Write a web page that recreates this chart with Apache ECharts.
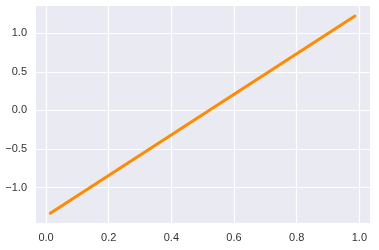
<!DOCTYPE html>
<html>
<head>
<meta charset="utf-8">
<script src="https://cdn.jsdelivr.net/npm/echarts@6/dist/echarts.min.js"></script>
<style>html,body{margin:0;padding:0;background:#fff}#c{width:379px;height:250px}</style>
</head>
<body>
<div id="c"></div>
<script>
const xValues = [0.0137, 0.986];
const yValues = [-1.334, 1.225];
const xRange = [-0.032, 1.034];
const yRange = [-1.46, 1.355];

const fmt = v => {
  const s = v.toFixed(1);
  return s.replace('-', '\u2212');
};
const chart = echarts.init(document.getElementById('c'), null, {renderer: 'canvas'});
const labelStyle = {color: '#333333', fontFamily: 'Liberation Sans', fontSize: 11, formatter: fmt, showMinLabel: false, showMaxLabel: false};
chart.setOption({
  animation: false,
  grid: {left: 36, right: 9, top: 6, bottom: 27, show: true, backgroundColor: '#EAEAF2', borderWidth: 0},
  xAxis: {
    type: 'value', min: xRange[0], max: xRange[1], minInterval: 0.2, maxInterval: 0.2,
    axisLine: {show: false}, axisTick: {show: false},
    splitLine: {show: true, showMinLine: false, showMaxLine: false, lineStyle: {color: '#fff', width: 1.2}},
    axisLabel: Object.assign({}, labelStyle, {margin: 9})
  },
  yAxis: {
    type: 'value', min: yRange[0], max: yRange[1], minInterval: 0.5, maxInterval: 0.5,
    axisLine: {show: false}, axisTick: {show: false},
    splitLine: {show: true, showMinLine: false, showMaxLine: false, lineStyle: {color: '#fff', width: 1.2}},
    axisLabel: Object.assign({}, labelStyle, {margin: 9})
  },
  series: [{
    type: 'line',
    data: xValues.map((x, i) => [x, yValues[i]]),
    showSymbol: false,
    lineStyle: {color: '#FF8C00', width: 3, cap: 'round'}
  }]
});
</script>
</body>
</html>
